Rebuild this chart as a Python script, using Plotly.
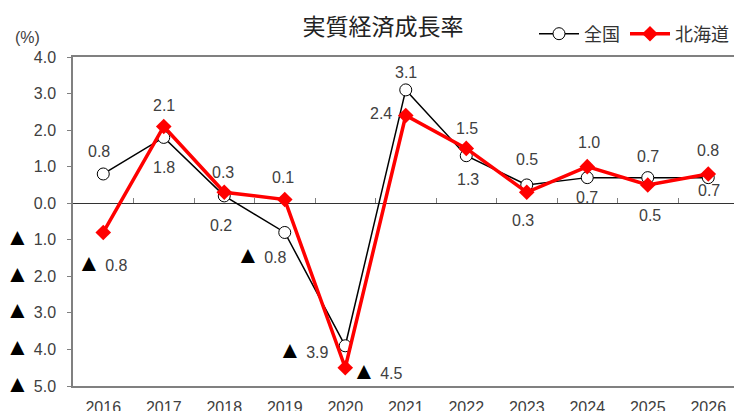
import plotly.graph_objects as go

years = ["2016", "2017", "2018", "2019", "2020", "2021", "2022", "2023", "2024", "2025", "2026"]
national = [0.8, 1.8, 0.2, -0.8, -3.9, 3.1, 1.3, 0.5, 0.7, 0.7, 0.7]
hokkaido = [-0.8, 2.1, 0.3, 0.1, -4.5, 2.4, 1.5, 0.3, 1.0, 0.5, 0.8]
y_ticks = [4, 3, 2, 1, 0, -1, -2, -3, -4, -5]

# label offsets (pixels) relative to each point
national_dx = [-4, 0, -3, -23, -42, 0, 2, 0, 0, 0, 1]
national_dy = [-22, 30, 30, 22, 4, -17, 24, -25, 20, -21, 13]
hokkaido_dx = [-1, 0, -1, -2, 32, -25, 1, -4, 2, 2, 0]
hokkaido_dy = [30, -21, -20, -22, 3, -2, -20, 28, -24, 31, -23]

TRI = '<span style="color:#000000;font-size:24px">▲</span>'


def fmt(v):
    return f"{TRI} {abs(v):.1f}" if v < 0 else f"{v:.1f}"


xs = list(range(len(years)))
num_font = dict(family="Liberation Sans, Arial, sans-serif", size=16, color="#404040")
jp_font = "Noto Sans CJK JP, sans-serif"

W, H = 734, 411
ml, mr, mt, mb = 73, 0, 57, 25
plot_w = W - ml - mr
plot_h = H - mt - mb
cat_w = 60.5
x_max = -0.5 + plot_w / cat_w

fig = go.Figure()
fig.add_trace(go.Scatter(
    x=xs, y=national, name="全国", mode="lines+markers",
    line=dict(color="#000000", width=1.5),
    marker=dict(symbol="circle", size=12, color="#ffffff", line=dict(color="#000000", width=1)),
    cliponaxis=False,
))
fig.add_trace(go.Scatter(
    x=xs, y=hokkaido, name="北海道", mode="lines+markers",
    line=dict(color="#ff0000", width=3.5),
    marker=dict(symbol="diamond", size=12, color="#ff0000"),
    cliponaxis=False,
))
# helper axis for the boundary ticks on the zero line
fig.add_trace(go.Scatter(x=[], y=[], xaxis="x2", yaxis="y", showlegend=False, hoverinfo="skip"))

annotations = []
for series, dxs, dys in ((national, national_dx, national_dy), (hokkaido, hokkaido_dx, hokkaido_dy)):
    for x, v, dx, dy in zip(xs, series, dxs, dys):
        annotations.append(dict(x=x, y=v, xref="x", yref="y", text=fmt(v), showarrow=False,
                                xanchor="center", yanchor="middle", xshift=dx, yshift=-dy,
                                font=num_font))

annotations.append(dict(text="(%)", xref="paper", yref="paper", x=(27 - ml) / plot_w,
                        y=1 + (mt - 37) / plot_h, xanchor="center", yanchor="middle",
                        showarrow=False, font=num_font))

y_min, y_max = -5, 4
fig.update_layout(
    width=W, height=H,
    margin=dict(l=ml, r=mr, t=mt, b=mb, autoexpand=False),
    paper_bgcolor="#ffffff", plot_bgcolor="#ffffff",
    showlegend=True,
    legend=dict(orientation="h", x=1.0, xanchor="right", y=1 + (mt - 34) / plot_h, yanchor="middle",
                font=dict(family=jp_font, size=18, color="#333333"), itemwidth=40,
                bgcolor="rgba(0,0,0,0)", tracegroupgap=0),
    title=dict(text="実質経済成長率", x=383 / W, xanchor="center", y=1 - 27 / H, yanchor="middle",
               font=dict(family=jp_font, size=23, color="#222222")),
    xaxis=dict(range=[-0.5, x_max], tickmode="array", tickvals=xs, ticktext=years,
               showgrid=False, zeroline=False, showline=True, mirror=True,
               linecolor="#808080", linewidth=1.5, ticks="",
               tickfont=num_font, ticklabelstandoff=6),
    xaxis2=dict(range=[-0.5, x_max], overlaying="x", anchor="free",
                position=(0 - y_min) / (y_max - y_min), side="top",
                tickmode="array", tickvals=[i + 0.5 for i in xs[:-1]],
                ticks="outside", ticklen=5, tickcolor="#808080", tickwidth=1,
                showticklabels=False, showgrid=False, zeroline=False, showline=False),
    yaxis=dict(range=[y_min, y_max], tickmode="array", tickvals=y_ticks,
               ticktext=[fmt(v) for v in y_ticks],
               showgrid=False, zeroline=True, zerolinecolor="#333333", zerolinewidth=1,
               showline=True, linecolor="#808080", linewidth=1.5,
               ticks="outside", ticklen=4, tickcolor="#808080",
               tickfont=num_font, ticklabelstandoff=8),
    annotations=annotations,
)

fig.write_html("out.html")
